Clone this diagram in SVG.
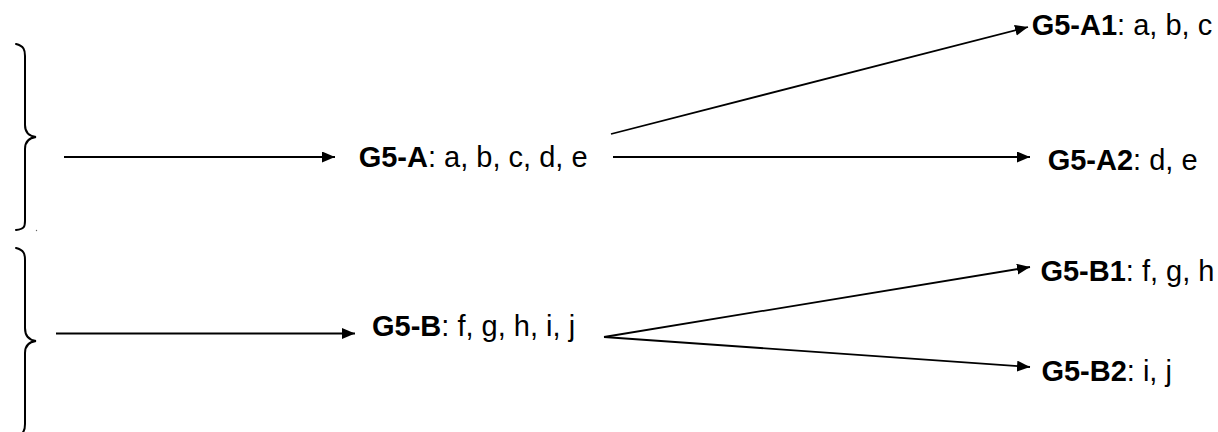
<svg xmlns="http://www.w3.org/2000/svg" width="1218" height="432" viewBox="0 0 1218 432">
  <style>
    .bg { fill: #ffffff; }
    .conn { stroke: #000; stroke-width: 1.8; fill: none; }
    .brace { stroke: #000; stroke-width: 2; fill: none; stroke-linecap: round; }
    .lbl { font-family: "Liberation Sans", Arial, sans-serif; font-size: 29px; fill: #000; }
    .b { font-weight: bold; }
  </style>
  <defs>
    <marker id="arrow" markerUnits="userSpaceOnUse" markerWidth="14" markerHeight="12" refX="13" refY="5.5" orient="auto">
      <path d="M0,0 L13,5.5 L0,11 z" fill="#000"/>
    </marker>
  </defs>
  <rect class="bg" x="0" y="0" width="1218" height="432"/>

  <g id="braces">
    <path class="brace" d="M16,44 C24,46 25,50 25,56 L25,125 C25,132 28,136 36,137 C28,138 25,142 25,149 L25,221 C25,227 24,229 16,230"/>
    <circle cx="36.5" cy="230.5" r="0.7" fill="#666"/>
    <path class="brace" d="M16,248 C24,250 25,254 25,260 L25,328 C25,335 28,340 36,341 C28,342 25,346 25,353 L25,424 C25,430 24,434 16,436"/>
  </g>

  <g id="connectors">
    <line class="conn" x1="64" y1="157" x2="335" y2="157" marker-end="url(#arrow)"/>
    <line class="conn" x1="611" y1="134" x2="1028" y2="27" marker-end="url(#arrow)"/>
    <line class="conn" x1="613" y1="157" x2="1030" y2="157" marker-end="url(#arrow)"/>
    <line class="conn" x1="56" y1="333.5" x2="355" y2="333.5" marker-end="url(#arrow)"/>
    <line class="conn" x1="604" y1="337" x2="1030" y2="267" marker-end="url(#arrow)"/>
    <line class="conn" x1="604" y1="337" x2="1030" y2="367" marker-end="url(#arrow)"/>
  </g>

  <g id="node-g5a">
    <text class="lbl" x="358.7" y="166.5"><tspan class="b">G5-A</tspan>: a, b, c, d, e</text>
  </g>
  <g id="node-g5a1">
    <text class="lbl" x="1031.7" y="35"><tspan class="b">G5-A1</tspan>: a, b, c</text>
  </g>
  <g id="node-g5a2">
    <text class="lbl" x="1047.7" y="170"><tspan class="b">G5-A2</tspan>: d, e</text>
  </g>
  <g id="node-g5b">
    <text class="lbl" x="372" y="336"><tspan class="b">G5-B</tspan>: f, g, h, i, j</text>
  </g>
  <g id="node-g5b1">
    <text class="lbl" x="1040.4" y="280.5"><tspan class="b">G5-B1</tspan>: f, g, h</text>
  </g>
  <g id="node-g5b2">
    <text class="lbl" x="1041.4" y="380.5"><tspan class="b">G5-B2</tspan>: i, j</text>
  </g>
</svg>
